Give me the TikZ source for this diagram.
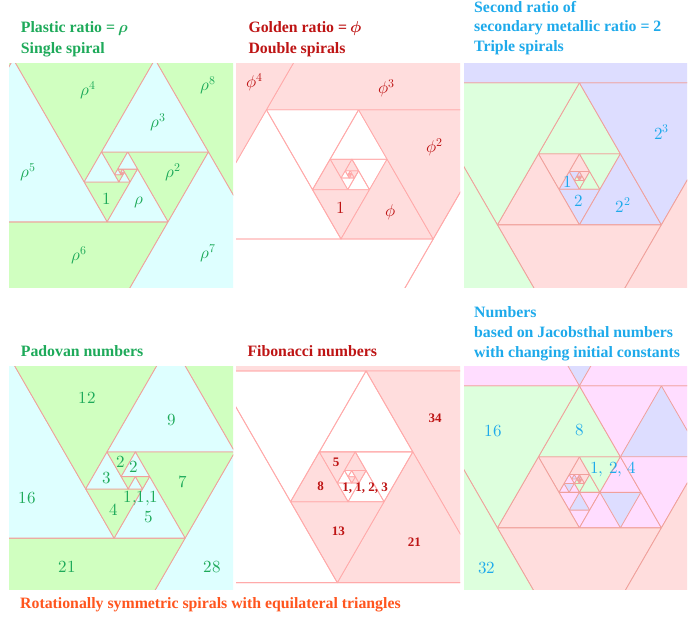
\documentclass[tikz,border=0pt]{standalone}
\usepackage{fontspec}
\usepackage{unicode-math}
\newfontfamily\tfont{Liberation Serif}
\definecolor{gfill}{RGB}{208,255,192}
\definecolor{cfill}{RGB}{222,255,255}
\definecolor{eline}{RGB}{240,160,155}
\definecolor{pline}{RGB}{255,170,170}
\definecolor{pfill}{RGB}{255,221,221}
\definecolor{lfill}{RGB}{221,221,255}
\definecolor{ggfill}{RGB}{221,255,221}
\definecolor{mfill}{RGB}{255,221,255}
\definecolor{tgreen}{RGB}{30,170,90}
\definecolor{tred}{RGB}{190,20,20}
\definecolor{tblue}{RGB}{30,170,235}
\definecolor{torange}{RGB}{255,85,30}
\def\triP{(-37.387,9.045) -- (8.613,9.045) -- (-14.387,48.882) -- cycle}
\def\triG{(-37.305,15.253) -- (19.695,15.253) -- (-8.805,64.616) -- cycle}
\def\triM{(-20.5,11.836) -- (20.5,11.836) -- (0,47.343) -- cycle}
\def\triMid{(0,11.836) -- (10.25,29.590) -- (-10.25,29.590) -- cycle}
\begin{document}
\begin{tikzpicture}[x=1pt,y=-1pt,line join=round,
  ea/.style={draw=eline, line width=0.8pt},
  eb/.style={draw=pline, line width=0.8pt},
  ttl/.style={anchor=base west, inner sep=0pt, font=\tfont\bfseries\fontsize{15.8}{19}\selectfont},
  lab/.style={inner sep=0pt, font=\fontsize{17}{20}\selectfont},
  labb/.style={inner sep=0pt, font=\tfont\bfseries\fontsize{13}{15}\selectfont}]
\useasboundingbox (0,0) rectangle (692,625);
\fill[white] (0,0) rectangle (692,625);

% ---------- Panel 1: plastic ratio ----------
\begin{scope}
  \clip (9,63) rectangle (233,287);
  \foreach \k in {-14,-12,...,10}
    \filldraw[ea, fill=gfill, shift={(121.5,173)}, rotate=60*\k, scale={exp(\k*0.2811995)}] \triP;
  \foreach \k in {-13,-11,...,9}
    \filldraw[ea, fill=cfill, shift={(121.5,173)}, rotate=60*\k, scale={exp(\k*0.2811995)}] \triP;
\end{scope}

% ---------- Panel 2: golden ratio ----------
\begin{scope}
  \clip (236,63) rectangle (460,287);
  \foreach \k in {-10,...,6} {
    \filldraw[eb, fill=pfill, shift={(349.8,174.4)}, rotate=60*\k, scale={exp(\k*0.4812118)}] \triG;
    \draw[eb, shift={(349.8,174.4)}, rotate=60*\k+180, scale={exp(\k*0.4812118)}] \triG;
  }
\end{scope}

% ---------- Panel 3: ratio 2, triple spirals ----------
\begin{scope}
  \clip (464,63) rectangle (687,287);
  \foreach \j in {-8,...,5} {
    \filldraw[ea, fill=lfill, shift={(579.4,177.5)}, rotate=60*\j, scale={exp(\j*0.693147)}] \triM;
    \filldraw[ea, fill=ggfill, shift={(579.4,177.5)}, rotate=60*\j+120, scale={exp(\j*0.693147)}] \triM;
    \filldraw[ea, fill=pfill, shift={(579.4,177.5)}, rotate=60*\j+240, scale={exp(\j*0.693147)}] \triM;
  }
\end{scope}

% ---------- Panel 4: Padovan numbers ----------
\begin{scope}
  \clip (9,366) rectangle (233,589);
  \filldraw[ea, fill=gfill] (170.9,341.3) -- (696.3,341.3) -- (433.6,796.4) -- cycle;
  \filldraw[ea, fill=cfill] (234.8,452) -- (36,796.4) -- (433.6,796.4) -- cycle;
  \filldraw[ea, fill=gfill] (-113.1,538.1) -- (185.1,538.1) -- (36,796.4) -- cycle;
  \filldraw[ea, fill=cfill] (0.5,341.3) -- (-113.1,538.1) -- (114.1,538.1) -- cycle;
  \filldraw[ea, fill=gfill] (0.5,341.3) -- (170.9,341.3) -- (85.7,488.9) -- cycle;
  \filldraw[ea, fill=cfill] (170.9,341.3) -- (107,452) -- (234.8,452) -- cycle;
  \filldraw[ea, fill=gfill] (135.4,452) -- (234.8,452) -- (185.1,538.1) -- cycle;
  \filldraw[ea, fill=cfill] (149.6,476.6) -- (114.1,538.1) -- (185.1,538.1) -- cycle;
  \filldraw[ea, fill=gfill] (85.7,488.9) -- (142.5,488.9) -- (114.1,538.1) -- cycle;
  \filldraw[ea, fill=cfill] (107,452) -- (85.7,488.9) -- (128.3,488.9) -- cycle;
  \filldraw[ea, fill=gfill] (107,452) -- (135.4,452) -- (121.2,476.6) -- cycle;
  \filldraw[ea, fill=cfill] (135.4,452) -- (121.2,476.6) -- (149.6,476.6) -- cycle;
  \filldraw[ea, fill=gfill] (121.2,476.6) -- (135.4,476.6) -- (128.3,488.9) -- cycle;
  \filldraw[ea, fill=cfill] (135.4,476.6) -- (128.3,488.9) -- (142.5,488.9) -- cycle;
  \filldraw[ea, fill=gfill] (135.4,476.6) -- (149.6,476.6) -- (142.5,488.9) -- cycle;
\end{scope}

% ---------- Panel 5: Fibonacci numbers ----------
\begin{scope}
  \clip (236,366) rectangle (460,589);
  \begin{scope}[shift={(337.3,483)}, x={(7.19pt,0pt)}, y={(3.595pt,-6.2267pt)}]
    \filldraw[eb, fill=pfill] (47,-73) -- (-42,-73) -- (-42,16) -- cycle;
    \filldraw[eb, fill=pfill] (-8,-18) -- (47,-18) -- (47,-73) -- cycle;
    \filldraw[eb, fill=pfill] (13,-18) -- (47,-18) -- (13,16) -- cycle;
    \filldraw[eb, fill=pfill] (-8,16) -- (13,16) -- (13,-5) -- cycle;
    \filldraw[eb, fill=pfill] (-8,3) -- (5,3) -- (-8,16) -- cycle;
    \filldraw[eb, fill=pfill] (0,-5) -- (-8,3) -- (0,3) -- cycle;
    \filldraw[eb, fill=pfill] (0,-5) -- (5,-5) -- (0,0) -- cycle;
    \filldraw[eb, fill=pfill] (5,-5) -- (2,-2) -- (5,-2) -- cycle;
    \filldraw[eb, fill=pfill] (3,-2) -- (5,-2) -- (3,0) -- cycle;
    \filldraw[eb, fill=pfill] (3,-1) -- (2,0) -- (3,0) -- cycle;
    \filldraw[eb, fill=pfill] (2,-1) -- (3,-1) -- (2,0) -- cycle;
    \draw[eb] (3,-1) -- (2,-1) -- (3,-2) -- cycle;
    \draw[eb] (2,-1) -- (3,-2) -- (2,-2) -- cycle;
    \draw[eb] (2,0) -- (0,0) -- (2,-2) -- cycle;
    \draw[eb] (0,3) -- (3,0) -- (0,0) -- cycle;
    \draw[eb] (5,3) -- (0,3) -- (5,-2) -- cycle;
    \draw[eb] (5,3) -- (13,-5) -- (5,-5) -- cycle;
    \draw[eb] (13,-5) -- (0,-5) -- (13,-18) -- cycle;
    \draw[eb] (13,-18) -- (-8,-18) -- (-8,3) -- cycle;
    \draw[eb] (-8,16) -- (-42,16) -- (-8,-18) -- cycle;
    \draw[eb] (13,16) -- (-42,16) -- (-42,71) -- cycle;
  \end{scope}
\end{scope}

% ---------- Panel 6: Jacobsthal-based numbers ----------
\begin{scope}
  \clip (464,366) rectangle (687,589);
  \foreach \j in {-8,...,5} {
    \filldraw[ea, fill=mfill, shift={(579.4,480.5)}, rotate=60*\j, scale={exp(\j*0.693147)}] \triM;
    \filldraw[ea, fill=lfill, shift={(579.4,480.5)}, rotate=60*\j, scale={exp(\j*0.693147)}] \triMid;
    \filldraw[ea, fill=ggfill, shift={(579.4,480.5)}, rotate=60*\j+120, scale={exp(\j*0.693147)}] \triM;
    \filldraw[ea, fill=pfill, shift={(579.4,480.5)}, rotate=60*\j+240, scale={exp(\j*0.693147)}] \triM;
  }
\end{scope}

% ---------- Titles ----------
\node[ttl, text=tgreen] (t1a) at (20.7,32) {Plastic ratio = $\symbfit{\rho}$};
\node[ttl, text=tgreen] (t1b) at (20.7,53) {Single spiral};
\node[ttl, text=tred] (t2a) at (248.3,32) {Golden ratio = $\symbfit{\phi}$};
\node[ttl, text=tred] (t2b) at (248.3,53) {Double spirals};
\node[ttl, text=tblue] (t3a) at (474,12) {Second ratio of};
\node[ttl, text=tblue] (t3b) at (474,31.5) {secondary metallic ratio = 2};
\node[ttl, text=tblue] (t3c) at (474,51) {Triple spirals};
\node[ttl, text=tgreen] (t4a) at (20.7,356) {Padovan numbers};
\node[ttl, text=tred] (t5a) at (247.3,356) {Fibonacci numbers};
\node[ttl, text=tblue] (t6a) at (474,317) {Numbers};
\node[ttl, text=tblue] (t6b) at (474,337) {based on Jacobsthal numbers};
\node[ttl, text=tblue] (t6c) at (474,357) {with changing initial constants};
\node[ttl, text=torange] (cap) at (20,608) {Rotationally symmetric spirals with equilateral triangles};

% ---------- Labels panel 1 ----------
\begin{scope}[every node/.style={lab, text=tgreen}]
\node (a4) at (88,90) {$\rho^{4}$};
\node (a8) at (208,85) {$\rho^{8}$};
\node (a3) at (158,122) {$\rho^{3}$};
\node (a5) at (28,172) {$\rho^{5}$};
\node (a2) at (173,172) {$\rho^{2}$};
\node (a0) at (107,199) {$1$};
\node (a1) at (139,203) {$\rho$};
\node (a6) at (79,255) {$\rho^{6}$};
\node (a7) at (208,253) {$\rho^{7}$};
\end{scope}
% ---------- Labels panel 2 ----------
\begin{scope}[every node/.style={lab, text=tred}]
\node (b4) at (255,82) {$\phi^{4}$};
\node (b3) at (387,88) {$\phi^{3}$};
\node (b2) at (435,147) {$\phi^{2}$};
\node (b0) at (341,208) {$1$};
\node (b1) at (391,212) {$\phi$};
\end{scope}
% ---------- Labels panel 3 ----------
\begin{scope}[every node/.style={lab, text=tblue}]
\node (c3) at (661.7,132) {$2^{3}$};
\node (c0) at (567.3,182) {$1$};
\node (c1) at (579,201) {$2$};
\node (c2) at (623.3,205) {$2^{2}$};
\end{scope}
% ---------- Labels panel 4 ----------
\begin{scope}[every node/.style={lab, text=tgreen}]
\node (d12) at (87,398) {$12$};
\node (d9) at (172,420) {$9$};
\node (d2a) at (121,462) {$2$};
\node (d2b) at (134,467) {$2$};
\node (d3) at (107,478) {$3$};
\node (d7) at (183,482) {$7$};
\node (d16) at (27,498) {$16$};
\node (d1) at (141,498) {$1{,}1{,}1$};
\node (d4) at (114,510) {$4$};
\node (d5) at (149,517) {$5$};
\node (d21) at (67,567) {$21$};
\node (d28) at (212,567) {$28$};
\end{scope}
% ---------- Labels panel 5 ----------
\begin{scope}[every node/.style={labb, text=tred}]
\node (e34) at (435,418.3) {34};
\node (e5) at (336,462.7) {5};
\node (e8) at (320.7,486.7) {8};
\node (e1) at (365,488.3) {1, 1, 2, 3};
\node (e13) at (338.3,531.7) {13};
\node (e21) at (414.3,542.3) {21};
\end{scope}
% ---------- Labels panel 6 ----------
\begin{scope}[every node/.style={lab, text=tblue}]
\node (f16) at (493.3,431) {$16$};
\node (f8) at (579.3,430) {$8$};
\node (f1) at (613.3,469.3) {$1,\,2,\,4$};
\node (f32) at (486.7,568.3) {$32$};
\end{scope}
\end{tikzpicture}
\end{document}
